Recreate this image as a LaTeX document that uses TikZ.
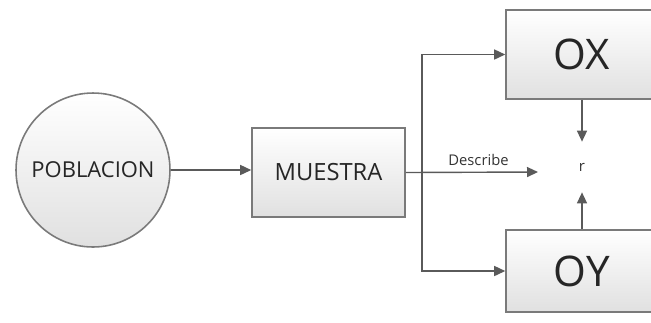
\documentclass[tikz,border=0pt]{standalone}
\usepackage{fontspec}
\setmainfont{Open Sans}
\usetikzlibrary{arrows.meta, positioning}

\definecolor{linegray}{HTML}{5A5A5A}
\definecolor{boxgray}{HTML}{7A7A7A}

\begin{document}
\begin{tikzpicture}[
      x=0.02cm, y=-0.02cm,
      caja/.style={
          rectangle,
          draw=boxgray,
          line width=0.9pt,
          top color=white,
          bottom color=black!12,
          align=center,
          text=black!85
        },
      circulo/.style={
          circle,
          draw=boxgray,
          line width=0.9pt,
          top color=white,
          bottom color=black!12,
          minimum size=3.08cm,
          inner sep=0pt,
          font=\fontsize{12.5}{14}\selectfont,
          text=black!85
        },
      arrow/.style={
          -{Triangle[length=2.2mm,width=2mm]},
          draw=linegray,
          line width=0.8pt
        }
    ]

    \useasboundingbox (0,0) rectangle (651,322);
    \clip (0,0) rectangle (651,322);

    % Nodes
    \node[circulo] (poblacion) at (93,170) {POBLACION};
    \node[caja, minimum width=3.06cm, minimum height=1.78cm,
          font=\fontsize{13.5}{15}\selectfont] (muestra) at (328.5,172.5) {MUESTRA};
    \node[caja, minimum width=3.04cm, minimum height=1.78cm,
          font=\fontsize{24}{28}\selectfont] (ox) at (582,54.5) {OX};
    \node[caja, minimum width=3.04cm, minimum height=1.64cm,
          font=\fontsize{24}{28}\selectfont] (oy) at (582,271) {OY};
    \node[minimum height=1cm, inner sep=0pt,
          font=\fontsize{8.5}{10}\selectfont, text=black!80] (r) at (582,167) {r};
    \coordinate (split) at (422,172);
    \coordinate (describe) at (538,172);

    % Arrows
    \draw[arrow] (poblacion.east) -- (poblacion.east -| muestra.west);
    \draw[arrow] (muestra.east) -- node[above, font=\fontsize{8.4}{10}\selectfont,
          text=black!80, pos=0.55] {Describe} (describe);
    \draw[arrow] (split) |- (ox.west);
    \draw[arrow] (split) |- (oy.west);
    \draw[arrow] (ox.south) -- (r.north);
    \draw[arrow] (oy.north) -- (r.south);

  \end{tikzpicture}
\end{document}
